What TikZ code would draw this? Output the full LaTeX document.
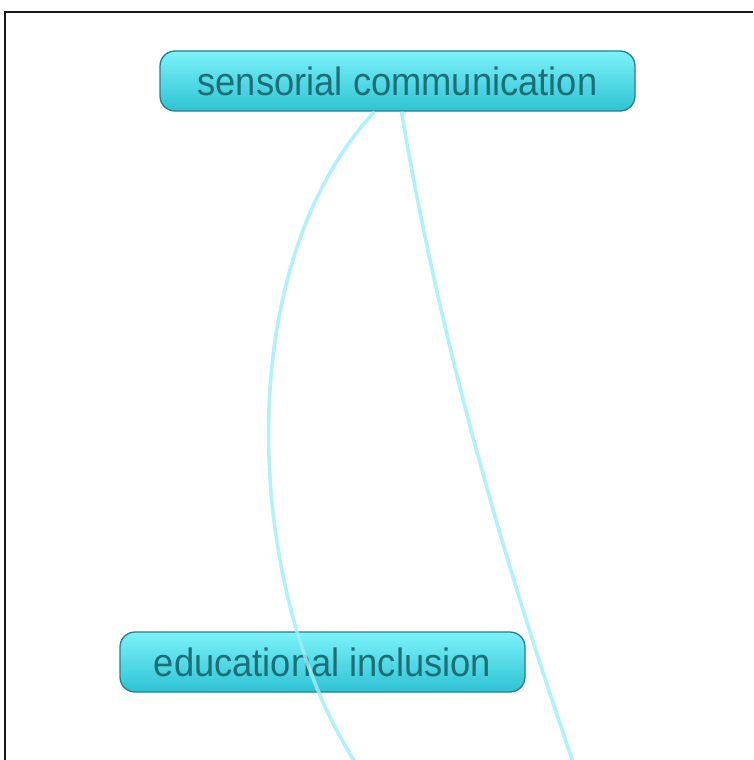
\documentclass[tikz,border=0pt]{standalone}
\usepackage{fontspec}
\setmainfont{Liberation Sans}
\usepackage{graphicx}
\definecolor{nodetop}{HTML}{7CF2FA}
\definecolor{nodebot}{HTML}{2EC3D3}
\definecolor{nodeline}{HTML}{267E8C}
\definecolor{nodetext}{HTML}{1E6E78}
\definecolor{linkcol}{HTML}{9EEEF8}
\begin{document}
\begin{tikzpicture}[x=1pt,y=-1pt,
  topic/.style={rectangle, rounded corners=15pt, draw=nodeline, line width=1.3pt,
    top color=nodetop, bottom color=nodebot, text=nodetext,
    minimum height=60pt, inner sep=0pt, font=\fontsize{39.5}{44}\selectfont},
  link/.style={draw=linkcol, line width=3.6pt, opacity=0.8}]
\useasboundingbox (0,0) rectangle (753,760);
\fill[white] (0,0) rectangle (753,760);
\draw[line width=2pt, black!90] (753,12) -- (5,12) -- (5,760);
\node[topic, minimum width=475pt] (sc) at (397.5,81) {\scalebox{0.92}[1]{sensorial communication}};
\node[topic, minimum width=405pt] (ei) at (322.5,662) {\scalebox{0.92}[1]{educational inclusion}};
\coordinate (e1) at (355,762);
\coordinate (e2) at (573,762);
\path[link] ([xshift=-23pt]sc.south) .. controls (228,270) and (245,590) .. (e1);
\path[link] ([xshift=4pt]sc.south) .. controls (438,330) and (500,550) .. (e2);
\end{tikzpicture}
\end{document}
